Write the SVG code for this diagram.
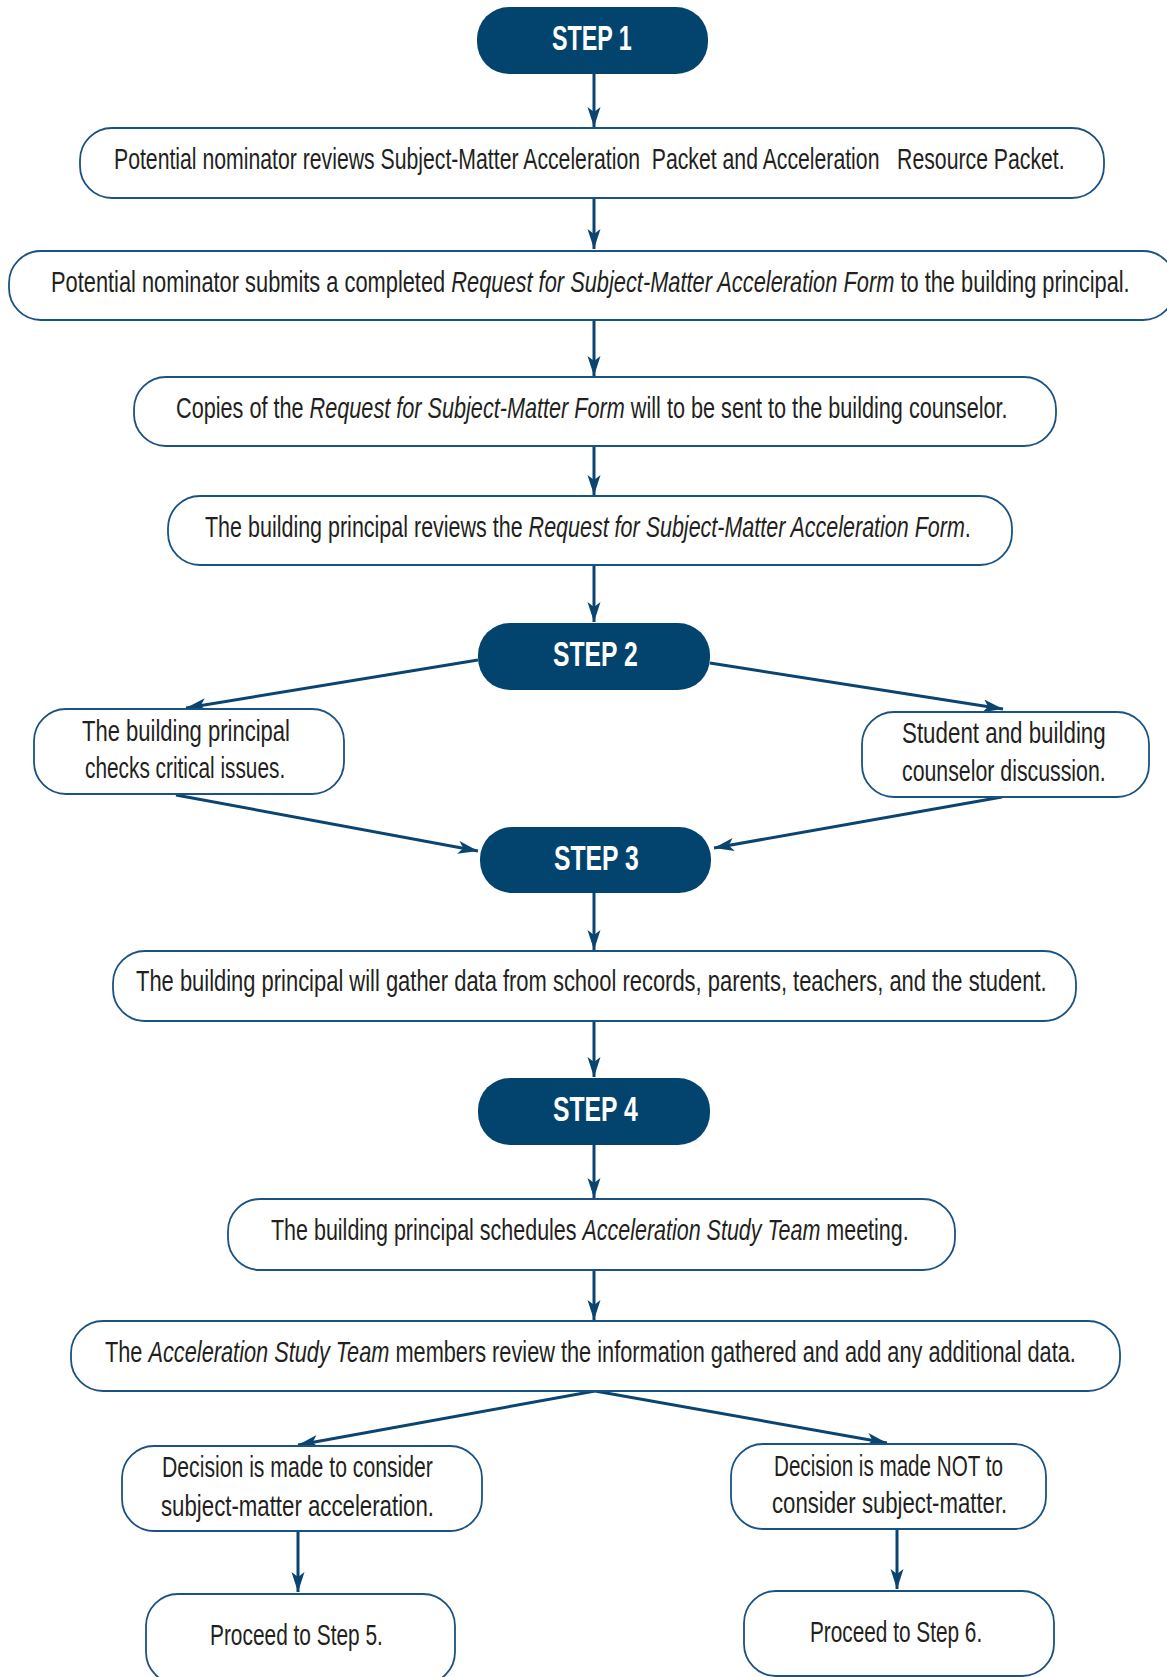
<svg xmlns="http://www.w3.org/2000/svg" width="1167" height="1677" viewBox="0 0 1167 1677">
<style>
.step{fill:#03446e;}
.stxt{font-family:"Liberation Sans",Arial,sans-serif;font-weight:bold;font-size:35px;fill:#ffffff;}
.box{fill:#ffffff;stroke:#1a5283;stroke-width:1.8;}
.t{font-family:"Liberation Sans",Arial,sans-serif;font-size:29px;fill:#231f20;}
.i{font-style:italic;}
.c{fill:none;stroke:#0a4571;stroke-width:3;}
</style>
<defs>
<marker id="ah" markerUnits="userSpaceOnUse" markerWidth="22" markerHeight="14" refX="20" refY="6.5" orient="auto">
<path d="M0,0 L20,6.5 L0,13 L5,6.5 Z" fill="#0a4571"/>
</marker>
</defs>
<rect width="1167" height="1677" fill="#ffffff"/>
<g id="connectors">
<line class="c" x1="594" y1="74" x2="594" y2="127" marker-end="url(#ah)"/>
<line class="c" x1="594" y1="198" x2="594" y2="249" marker-end="url(#ah)"/>
<line class="c" x1="594" y1="320" x2="594" y2="376" marker-end="url(#ah)"/>
<line class="c" x1="594" y1="446" x2="594" y2="495" marker-end="url(#ah)"/>
<line class="c" x1="594" y1="565" x2="594" y2="622" marker-end="url(#ah)"/>
<line class="c" x1="478" y1="660" x2="186" y2="708" marker-end="url(#ah)"/>
<line class="c" x1="710" y1="663" x2="1003" y2="709" marker-end="url(#ah)"/>
<line class="c" x1="176" y1="795" x2="478" y2="851" marker-end="url(#ah)"/>
<line class="c" x1="1002" y1="797" x2="714" y2="848" marker-end="url(#ah)"/>
<line class="c" x1="594" y1="893" x2="594" y2="950" marker-end="url(#ah)"/>
<line class="c" x1="594" y1="1021" x2="594" y2="1077" marker-end="url(#ah)"/>
<line class="c" x1="594" y1="1145" x2="594" y2="1198" marker-end="url(#ah)"/>
<line class="c" x1="594" y1="1270" x2="594" y2="1320" marker-end="url(#ah)"/>
<line class="c" x1="595" y1="1391" x2="298" y2="1445" marker-end="url(#ah)"/>
<line class="c" x1="595" y1="1391" x2="887" y2="1443" marker-end="url(#ah)"/>
<line class="c" x1="298" y1="1531" x2="298" y2="1592" marker-end="url(#ah)"/>
<line class="c" x1="897" y1="1529" x2="897" y2="1589" marker-end="url(#ah)"/>
</g>
<g id="step1">
<rect class="step" x="477" y="7" width="231" height="67" rx="32"/>
<text class="stxt" transform="translate(552,50) scale(0.7,1)" textLength="114" lengthAdjust="spacingAndGlyphs">STEP 1</text>
</g>
<g id="box1">
<rect class="box" x="80" y="128" width="1024" height="70" rx="32"/>
<text class="t" style="white-space:pre" xml:space="preserve" transform="translate(114,169) scale(0.7,1)" textLength="1358" lengthAdjust="spacingAndGlyphs">Potential nominator reviews Subject-Matter Acceleration  Packet and Acceleration   Resource Packet.</text>
</g>
<g id="box2">
<rect class="box" x="9" y="251" width="1166" height="69" rx="32"/>
<text class="t" transform="translate(51,292) scale(0.7,1)" textLength="1541" lengthAdjust="spacingAndGlyphs">Potential nominator submits a completed <tspan class="i">Request for Subject-Matter Acceleration Form</tspan> to the building principal.</text>
</g>
<g id="box3">
<rect class="box" x="134" y="377" width="922" height="69" rx="32"/>
<text class="t" transform="translate(176,418) scale(0.7,1)" textLength="1188" lengthAdjust="spacingAndGlyphs">Copies of the <tspan class="i">Request for Subject-Matter Form</tspan> will to be sent to the building counselor.</text>
</g>
<g id="box4">
<rect class="box" x="168" y="496" width="844" height="69" rx="32"/>
<text class="t" transform="translate(205,537) scale(0.7,1)" textLength="1094" lengthAdjust="spacingAndGlyphs">The building principal reviews the <tspan class="i">Request for Subject-Matter Acceleration Form</tspan>.</text>
</g>
<g id="step2">
<rect class="step" x="478" y="623" width="232" height="67" rx="32"/>
<text class="stxt" transform="translate(553,666) scale(0.7,1)" textLength="121" lengthAdjust="spacingAndGlyphs">STEP 2</text>
</g>
<g id="critical">
<rect class="box" x="34" y="709" width="310" height="85" rx="32"/>
<text class="t" transform="translate(82,741) scale(0.7,1)" textLength="297" lengthAdjust="spacingAndGlyphs">The building principal</text>
<text class="t" transform="translate(85,778) scale(0.7,1)" textLength="286" lengthAdjust="spacingAndGlyphs">checks critical issues.</text>
</g>
<g id="discussion">
<rect class="box" x="862" y="712" width="287" height="85" rx="32"/>
<text class="t" transform="translate(902,743) scale(0.7,1)" textLength="291" lengthAdjust="spacingAndGlyphs">Student and building</text>
<text class="t" transform="translate(902,781) scale(0.7,1)" textLength="291" lengthAdjust="spacingAndGlyphs">counselor discussion.</text>
</g>
<g id="step3">
<rect class="step" x="480" y="827" width="231" height="66" rx="32"/>
<text class="stxt" transform="translate(554,870) scale(0.7,1)" textLength="121" lengthAdjust="spacingAndGlyphs">STEP 3</text>
</g>
<g id="box5">
<rect class="box" x="113" y="951" width="963" height="70" rx="32"/>
<text class="t" transform="translate(136,991) scale(0.7,1)" textLength="1301" lengthAdjust="spacingAndGlyphs">The building principal will gather data from school records, parents, teachers, and the student.</text>
</g>
<g id="step4">
<rect class="step" x="478" y="1078" width="232" height="67" rx="32"/>
<text class="stxt" transform="translate(553,1121) scale(0.7,1)" textLength="121" lengthAdjust="spacingAndGlyphs">STEP 4</text>
</g>
<g id="box6">
<rect class="box" x="228" y="1199" width="727" height="71" rx="32"/>
<text class="t" transform="translate(271,1240) scale(0.7,1)" textLength="911" lengthAdjust="spacingAndGlyphs">The building principal schedules <tspan class="i">Acceleration Study Team</tspan> meeting.</text>
</g>
<g id="box7">
<rect class="box" x="71" y="1321" width="1049" height="70" rx="32"/>
<text class="t" transform="translate(105,1362) scale(0.7,1)" textLength="1387" lengthAdjust="spacingAndGlyphs">The <tspan class="i">Acceleration Study Team</tspan> members review the information gathered and add any additional data.</text>
</g>
<g id="decision-yes">
<rect class="box" x="122" y="1446" width="360" height="85" rx="32"/>
<text class="t" transform="translate(162,1477) scale(0.7,1)" textLength="387" lengthAdjust="spacingAndGlyphs">Decision is made to consider</text>
<text class="t" transform="translate(161,1516) scale(0.7,1)" textLength="390" lengthAdjust="spacingAndGlyphs">subject-matter acceleration.</text>
</g>
<g id="decision-no">
<rect class="box" x="731" y="1444" width="315" height="85" rx="32"/>
<text class="t" transform="translate(774,1476) scale(0.7,1)" textLength="327" lengthAdjust="spacingAndGlyphs">Decision is made NOT to</text>
<text class="t" transform="translate(772,1513) scale(0.7,1)" textLength="336" lengthAdjust="spacingAndGlyphs">consider subject-matter.</text>
</g>
<g id="proceed5">
<rect class="box" x="146" y="1594" width="309" height="90" rx="32"/>
<text class="t" transform="translate(210,1645) scale(0.7,1)" textLength="247" lengthAdjust="spacingAndGlyphs">Proceed to Step 5.</text>
</g>
<g id="proceed6">
<rect class="box" x="744" y="1591" width="310" height="85" rx="32"/>
<text class="t" transform="translate(810,1642) scale(0.7,1)" textLength="246" lengthAdjust="spacingAndGlyphs">Proceed to Step 6.</text>
</g>
</svg>
